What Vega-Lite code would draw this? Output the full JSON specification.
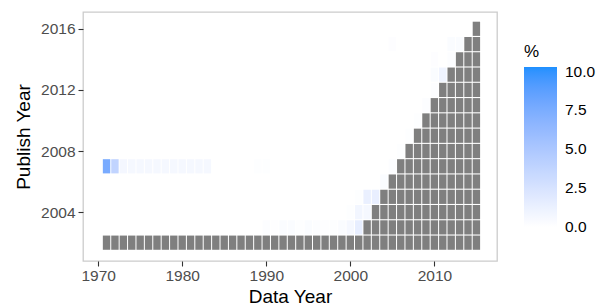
{
  "$schema": "https://vega.github.io/schema/vega-lite/v6.json",
  "width": 414,
  "height": 249,
  "autosize": {"type": "none"},
  "padding": {"left": 83, "top": 12, "right": 106, "bottom": 47},
  "background": "white",
  "config": {
    "font": "Liberation Sans",
    "view": {"stroke": "#CCCCCC", "strokeWidth": 1.3},
    "axis": {
      "domain": false,
      "grid": false,
      "ticks": true,
      "tickColor": "#333333",
      "tickSize": 5,
      "tickWidth": 1.1,
      "labelColor": "#4D4D4D",
      "labelFontSize": 15.5,
      "labelFont": "Liberation Sans",
      "titleFont": "Liberation Sans",
      "titleFontSize": 19,
      "titleFontWeight": "normal",
      "titleColor": "#000000"
    },
    "legend": {
      "titleFont": "Liberation Sans",
      "labelFont": "Liberation Sans"
    }
  },
  "datasets": {
    "cells": [
      {"dy": 1971, "py": 2002, "pct": null}, {"dy": 1972, "py": 2002, "pct": null}, {"dy": 1973, "py": 2002, "pct": null}, {"dy": 1974, "py": 2002, "pct": null}, {"dy": 1975, "py": 2002, "pct": null},
      {"dy": 1976, "py": 2002, "pct": null}, {"dy": 1977, "py": 2002, "pct": null}, {"dy": 1978, "py": 2002, "pct": null}, {"dy": 1979, "py": 2002, "pct": null}, {"dy": 1980, "py": 2002, "pct": null},
      {"dy": 1981, "py": 2002, "pct": null}, {"dy": 1982, "py": 2002, "pct": null}, {"dy": 1983, "py": 2002, "pct": null}, {"dy": 1984, "py": 2002, "pct": null}, {"dy": 1985, "py": 2002, "pct": null},
      {"dy": 1986, "py": 2002, "pct": null}, {"dy": 1987, "py": 2002, "pct": null}, {"dy": 1988, "py": 2002, "pct": null}, {"dy": 1989, "py": 2002, "pct": null}, {"dy": 1990, "py": 2002, "pct": null},
      {"dy": 1991, "py": 2002, "pct": null}, {"dy": 1992, "py": 2002, "pct": null}, {"dy": 1993, "py": 2002, "pct": null}, {"dy": 1994, "py": 2002, "pct": null}, {"dy": 1995, "py": 2002, "pct": null},
      {"dy": 1996, "py": 2002, "pct": null}, {"dy": 1997, "py": 2002, "pct": null}, {"dy": 1998, "py": 2002, "pct": null}, {"dy": 1999, "py": 2002, "pct": null}, {"dy": 2000, "py": 2002, "pct": null},
      {"dy": 2001, "py": 2002, "pct": null}, {"dy": 2002, "py": 2002, "pct": null}, {"dy": 2003, "py": 2002, "pct": null}, {"dy": 2004, "py": 2002, "pct": null}, {"dy": 2005, "py": 2002, "pct": null},
      {"dy": 2006, "py": 2002, "pct": null}, {"dy": 2007, "py": 2002, "pct": null}, {"dy": 2008, "py": 2002, "pct": null}, {"dy": 2009, "py": 2002, "pct": null}, {"dy": 2010, "py": 2002, "pct": null},
      {"dy": 2011, "py": 2002, "pct": null}, {"dy": 2012, "py": 2002, "pct": null}, {"dy": 2013, "py": 2002, "pct": null}, {"dy": 2014, "py": 2002, "pct": null}, {"dy": 2015, "py": 2002, "pct": null},

      {"dy": 2002, "py": 2003, "pct": null}, {"dy": 2003, "py": 2003, "pct": null}, {"dy": 2004, "py": 2003, "pct": null}, {"dy": 2005, "py": 2003, "pct": null}, {"dy": 2006, "py": 2003, "pct": null},
      {"dy": 2007, "py": 2003, "pct": null}, {"dy": 2008, "py": 2003, "pct": null}, {"dy": 2009, "py": 2003, "pct": null}, {"dy": 2010, "py": 2003, "pct": null}, {"dy": 2011, "py": 2003, "pct": null},
      {"dy": 2012, "py": 2003, "pct": null}, {"dy": 2013, "py": 2003, "pct": null}, {"dy": 2014, "py": 2003, "pct": null}, {"dy": 2015, "py": 2003, "pct": null},

      {"dy": 2003, "py": 2004, "pct": null}, {"dy": 2004, "py": 2004, "pct": null}, {"dy": 2005, "py": 2004, "pct": null}, {"dy": 2006, "py": 2004, "pct": null}, {"dy": 2007, "py": 2004, "pct": null},
      {"dy": 2008, "py": 2004, "pct": null}, {"dy": 2009, "py": 2004, "pct": null}, {"dy": 2010, "py": 2004, "pct": null}, {"dy": 2011, "py": 2004, "pct": null}, {"dy": 2012, "py": 2004, "pct": null},
      {"dy": 2013, "py": 2004, "pct": null}, {"dy": 2014, "py": 2004, "pct": null}, {"dy": 2015, "py": 2004, "pct": null},

      {"dy": 2004, "py": 2005, "pct": null}, {"dy": 2005, "py": 2005, "pct": null}, {"dy": 2006, "py": 2005, "pct": null}, {"dy": 2007, "py": 2005, "pct": null}, {"dy": 2008, "py": 2005, "pct": null},
      {"dy": 2009, "py": 2005, "pct": null}, {"dy": 2010, "py": 2005, "pct": null}, {"dy": 2011, "py": 2005, "pct": null}, {"dy": 2012, "py": 2005, "pct": null}, {"dy": 2013, "py": 2005, "pct": null},
      {"dy": 2014, "py": 2005, "pct": null}, {"dy": 2015, "py": 2005, "pct": null},

      {"dy": 2005, "py": 2006, "pct": null}, {"dy": 2006, "py": 2006, "pct": null}, {"dy": 2007, "py": 2006, "pct": null}, {"dy": 2008, "py": 2006, "pct": null}, {"dy": 2009, "py": 2006, "pct": null},
      {"dy": 2010, "py": 2006, "pct": null}, {"dy": 2011, "py": 2006, "pct": null}, {"dy": 2012, "py": 2006, "pct": null}, {"dy": 2013, "py": 2006, "pct": null}, {"dy": 2014, "py": 2006, "pct": null},
      {"dy": 2015, "py": 2006, "pct": null},

      {"dy": 2006, "py": 2007, "pct": null}, {"dy": 2007, "py": 2007, "pct": null}, {"dy": 2008, "py": 2007, "pct": null}, {"dy": 2009, "py": 2007, "pct": null}, {"dy": 2010, "py": 2007, "pct": null},
      {"dy": 2011, "py": 2007, "pct": null}, {"dy": 2012, "py": 2007, "pct": null}, {"dy": 2013, "py": 2007, "pct": null}, {"dy": 2014, "py": 2007, "pct": null}, {"dy": 2015, "py": 2007, "pct": null},

      {"dy": 2007, "py": 2008, "pct": null}, {"dy": 2008, "py": 2008, "pct": null}, {"dy": 2009, "py": 2008, "pct": null}, {"dy": 2010, "py": 2008, "pct": null}, {"dy": 2011, "py": 2008, "pct": null},
      {"dy": 2012, "py": 2008, "pct": null}, {"dy": 2013, "py": 2008, "pct": null}, {"dy": 2014, "py": 2008, "pct": null}, {"dy": 2015, "py": 2008, "pct": null},

      {"dy": 2008, "py": 2009, "pct": null}, {"dy": 2009, "py": 2009, "pct": null}, {"dy": 2010, "py": 2009, "pct": null}, {"dy": 2011, "py": 2009, "pct": null}, {"dy": 2012, "py": 2009, "pct": null},
      {"dy": 2013, "py": 2009, "pct": null}, {"dy": 2014, "py": 2009, "pct": null}, {"dy": 2015, "py": 2009, "pct": null},

      {"dy": 2009, "py": 2010, "pct": null}, {"dy": 2010, "py": 2010, "pct": null}, {"dy": 2011, "py": 2010, "pct": null}, {"dy": 2012, "py": 2010, "pct": null}, {"dy": 2013, "py": 2010, "pct": null},
      {"dy": 2014, "py": 2010, "pct": null}, {"dy": 2015, "py": 2010, "pct": null},

      {"dy": 2010, "py": 2011, "pct": null}, {"dy": 2011, "py": 2011, "pct": null}, {"dy": 2012, "py": 2011, "pct": null}, {"dy": 2013, "py": 2011, "pct": null}, {"dy": 2014, "py": 2011, "pct": null},
      {"dy": 2015, "py": 2011, "pct": null},

      {"dy": 2011, "py": 2012, "pct": null}, {"dy": 2012, "py": 2012, "pct": null}, {"dy": 2013, "py": 2012, "pct": null}, {"dy": 2014, "py": 2012, "pct": null}, {"dy": 2015, "py": 2012, "pct": null},

      {"dy": 2012, "py": 2013, "pct": null}, {"dy": 2013, "py": 2013, "pct": null}, {"dy": 2014, "py": 2013, "pct": null}, {"dy": 2015, "py": 2013, "pct": null},

      {"dy": 2013, "py": 2014, "pct": null}, {"dy": 2014, "py": 2014, "pct": null}, {"dy": 2015, "py": 2014, "pct": null},

      {"dy": 2014, "py": 2015, "pct": null}, {"dy": 2015, "py": 2015, "pct": null},

      {"dy": 2015, "py": 2016, "pct": null},

      {"dy": 1990, "py": 2003, "pct": 0.2}, {"dy": 1991, "py": 2003, "pct": 0.05}, {"dy": 1992, "py": 2003, "pct": 0.3}, {"dy": 1993, "py": 2003, "pct": 0.3},
      {"dy": 1994, "py": 2003, "pct": 0.1}, {"dy": 1995, "py": 2003, "pct": 0.3}, {"dy": 1996, "py": 2003, "pct": 0.2}, {"dy": 1997, "py": 2003, "pct": 0.05},
      {"dy": 1998, "py": 2003, "pct": 0.1}, {"dy": 1999, "py": 2003, "pct": 0.3}, {"dy": 2000, "py": 2003, "pct": 0.6}, {"dy": 2001, "py": 2003, "pct": 1.5},

      {"dy": 2000, "py": 2004, "pct": 0.1}, {"dy": 2001, "py": 2004, "pct": 0.8}, {"dy": 2002, "py": 2004, "pct": 0.6},

      {"dy": 2001, "py": 2005, "pct": 0.1}, {"dy": 2002, "py": 2005, "pct": 1.3}, {"dy": 2003, "py": 2005, "pct": 1.4},

      {"dy": 2004, "py": 2006, "pct": 0.3},

      {"dy": 1971, "py": 2007, "pct": 7.6}, {"dy": 1972, "py": 2007, "pct": 3.8}, {"dy": 1973, "py": 2007, "pct": 0.7}, {"dy": 1974, "py": 2007, "pct": 0.6},
      {"dy": 1975, "py": 2007, "pct": 0.6}, {"dy": 1976, "py": 2007, "pct": 0.6}, {"dy": 1977, "py": 2007, "pct": 0.6}, {"dy": 1978, "py": 2007, "pct": 0.6},
      {"dy": 1979, "py": 2007, "pct": 0.6}, {"dy": 1980, "py": 2007, "pct": 0.6}, {"dy": 1981, "py": 2007, "pct": 0.6}, {"dy": 1982, "py": 2007, "pct": 0.6},
      {"dy": 1983, "py": 2007, "pct": 0.6}, {"dy": 1989, "py": 2007, "pct": 0.1}, {"dy": 1990, "py": 2007, "pct": 0.1}, {"dy": 2005, "py": 2007, "pct": 0.2},

      {"dy": 2006, "py": 2008, "pct": 0.1},
      {"dy": 2007, "py": 2009, "pct": 0.1},
      {"dy": 2008, "py": 2010, "pct": 0.1},
      {"dy": 2009, "py": 2011, "pct": 0.2},
      {"dy": 2010, "py": 2012, "pct": 0.2},
      {"dy": 2010, "py": 2013, "pct": 0.3}, {"dy": 2011, "py": 2013, "pct": 1.0},
      {"dy": 2010, "py": 2014, "pct": 0.15}, {"dy": 2012, "py": 2014, "pct": 0.2},
      {"dy": 2005, "py": 2015, "pct": 0.15}, {"dy": 2012, "py": 2015, "pct": 0.3}, {"dy": 2013, "py": 2015, "pct": 0.3}
    ]
  },
  "data": {"name": "cells"},
  "encoding": {
    "x": {
      "field": "dy",
      "type": "quantitative",
      "title": "Data Year",
      "scale": {"domain": [1968.2, 2017.45], "nice": false, "zero": false},
      "axis": {"values": [1970, 1980, 1990, 2000, 2010], "format": "d", "labelPadding": 2, "titlePadding": 4}
    },
    "y": {
      "field": "py",
      "type": "quantitative",
      "title": "Publish Year",
      "scale": {"domain": [2000.8, 2017.1], "nice": false, "zero": false},
      "axis": {"values": [2004, 2008, 2012, 2016], "format": "d", "labelPadding": 3, "titlePadding": 7}
    }
  },
  "layer": [
    {
      "transform": [{"filter": "datum.pct === null"}],
      "mark": {"type": "rect", "width": 7.4, "height": 14.2, "color": "#7F7F7F"}
    },
    {
      "transform": [{"filter": "datum.pct !== null"}],
      "mark": {"type": "rect", "width": 7.4, "height": 14.2},
      "encoding": {
        "color": {
          "field": "pct",
          "type": "quantitative",
          "title": "%",
          "scale": {"domain": [0, 10.3], "range": ["#FFFFFF", "#1E90FF"], "interpolate": "lab"},
          "legend": {
            "orient": "none",
            "legendX": 441,
            "legendY": 32,
            "values": [0, 2.5, 5, 7.5, 10],
            "format": ".1f",
            "gradientLength": 160,
            "gradientThickness": 33,
            "gradientStrokeWidth": 0,
            "labelFontSize": 15.5,
            "labelColor": "#000000",
            "labelOffset": 8,
            "labelBaseline": "middle",
            "titleFontSize": 17,
            "titleFontWeight": "normal",
            "titleColor": "#000000",
            "titlePadding": 6,
            "encode": {"labels": {"update": {"baseline": {"value": "middle"}}}}
          }
        }
      }
    }
  ]
}
